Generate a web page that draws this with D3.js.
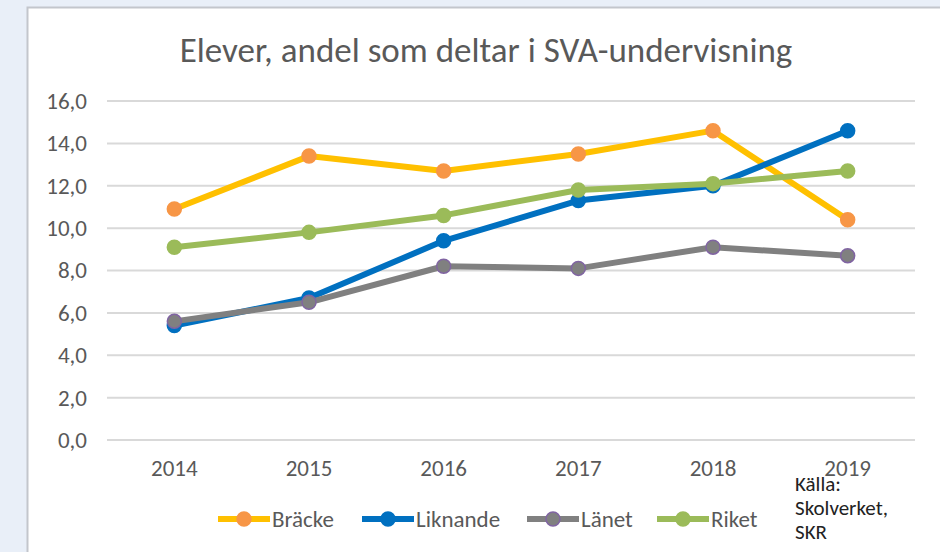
<!DOCTYPE html>
<html>
<head>
<meta charset="utf-8">
<script src="https://cdn.jsdelivr.net/npm/d3@7"></script>
<style>
  html, body { margin: 0; padding: 0; background: #e9eff8; }
  svg { display: block; }
</style>
</head>
<body>
<div id="chart"></div>
<script>
// data
var years = ["2014", "2015", "2016", "2017", "2018", "2019"];
var bracke = [10.9, 13.4, 12.7, 13.5, 14.6, 10.4];
var liknande = [5.4, 6.7, 9.4, 11.3, 12.0, 14.6];
var lanet = [5.6, 6.5, 8.2, 8.1, 9.1, 8.7];
var riket = [9.1, 9.8, 10.6, 11.8, 12.1, 12.7];
var yTicks = [0, 2, 4, 6, 8, 10, 12, 14, 16];
var seriesNames = ["Bräcke", "Liknande", "Länet", "Riket"];
var sourceLines = ["Källa:", "Skolverket,", "SKR"];

(function () {
    "use strict";

    var W = 940, H = 552;
    var font = "Calibri, Carlito, 'Liberation Sans', sans-serif";

    var series = [
        { name: seriesNames[0], values: bracke,   line: "#ffc000", fill: "#f79646", stroke: "#f79646" },
        { name: seriesNames[1], values: liknande, line: "#0070c0", fill: "#0070c0", stroke: "#0070c0" },
        { name: seriesNames[2], values: lanet,    line: "#808080", fill: "#808080", stroke: "#8064a2" },
        { name: seriesNames[3], values: riket,    line: "#9bbb59", fill: "#9bbb59", stroke: "#9bbb59" }
    ];

    var svg = d3.select("#chart")
        .append("svg")
        .attr("width", W)
        .attr("height", H);

    // white slide panel
    svg.append("rect")
        .attr("x", 27.5).attr("y", 7.5)
        .attr("width", W).attr("height", H)
        .attr("fill", "#ffffff")
        .attr("stroke", "#c3c6cc")
        .attr("stroke-width", 2);

    // title
    svg.append("text")
        .attr("x", 486).attr("y", 62)
        .attr("text-anchor", "middle")
        .attr("font-family", font)
        .attr("font-size", 35)
        .attr("fill", "#595959")
        .text("Elever, andel som deltar i SVA-undervisning");

    var x = d3.scaleBand().domain(years).range([107, 915]);
    var y = d3.scaleLinear().domain([0, 16]).range([440, 101]);

    // gridlines
    svg.append("g")
        .selectAll("line")
        .data(yTicks)
        .join("line")
        .attr("x1", 107).attr("x2", 915)
        .attr("y1", function (d) { return y(d); })
        .attr("y2", function (d) { return y(d); })
        .attr("stroke", "#d9d9d9")
        .attr("stroke-width", 2);

    // y axis labels
    var yAxis = d3.axisLeft(y)
        .tickValues(yTicks)
        .tickSize(0)
        .tickPadding(0)
        .tickFormat(function (d) { return d3.format(".1f")(d).replace(".", ","); });

    svg.append("g")
        .attr("transform", "translate(87,0)")
        .call(yAxis)
        .call(function (g) { g.select(".domain").remove(); })
        .selectAll("text")
        .attr("font-family", font)
        .attr("font-size", 23)
        .attr("fill", "#595959");

    // x axis labels
    var xAxis = d3.axisBottom(x).tickSize(0).tickPadding(0);
    svg.append("g")
        .attr("transform", "translate(0,460)")
        .call(xAxis)
        .call(function (g) { g.select(".domain").remove(); })
        .selectAll("text")
        .attr("font-family", font)
        .attr("font-size", 23)
        .attr("fill", "#595959");

    var cx = function (d, i) { return x(years[i]) + x.bandwidth() / 2; };

    var line = d3.line()
        .x(function (d, i) { return cx(d, i); })
        .y(function (d) { return y(d); });

    var plot = svg.append("g");

    series.forEach(function (s) {
        var g = plot.append("g");
        g.append("path")
            .attr("d", line(s.values))
            .attr("fill", "none")
            .attr("stroke", s.line)
            .attr("stroke-width", 6)
            .attr("stroke-linejoin", "round")
            .attr("stroke-linecap", "round");
        g.selectAll("circle")
            .data(s.values)
            .join("circle")
            .attr("cx", cx)
            .attr("cy", function (d) { return y(d); })
            .attr("r", 7)
            .attr("fill", s.fill)
            .attr("stroke", s.stroke)
            .attr("stroke-width", 1.5);
    });

    // legend
    var legendX = [218, 362, 527, 657];
    var legend = svg.append("g");
    series.forEach(function (s, i) {
        var lx = legendX[i];
        legend.append("line")
            .attr("x1", lx).attr("x2", lx + 52)
            .attr("y1", 519).attr("y2", 519)
            .attr("stroke", s.line)
            .attr("stroke-width", 6);
        legend.append("circle")
            .attr("cx", lx + 26).attr("cy", 519)
            .attr("r", 7)
            .attr("fill", s.fill)
            .attr("stroke", s.stroke)
            .attr("stroke-width", 1.5);
        legend.append("text")
            .attr("x", lx + 54).attr("y", 527)
            .attr("font-family", font)
            .attr("font-size", 23)
            .attr("fill", "#595959")
            .text(s.name);
    });

    // source note
    svg.append("g")
        .selectAll("text")
        .data(sourceLines)
        .join("text")
        .attr("x", 795)
        .attr("y", function (d, i) { return 491 + i * 24; })
        .attr("font-family", font)
        .attr("font-size", 21)
        .attr("fill", "#222222")
        .text(function (d) { return d; });
}());
</script>
</body>
</html>
